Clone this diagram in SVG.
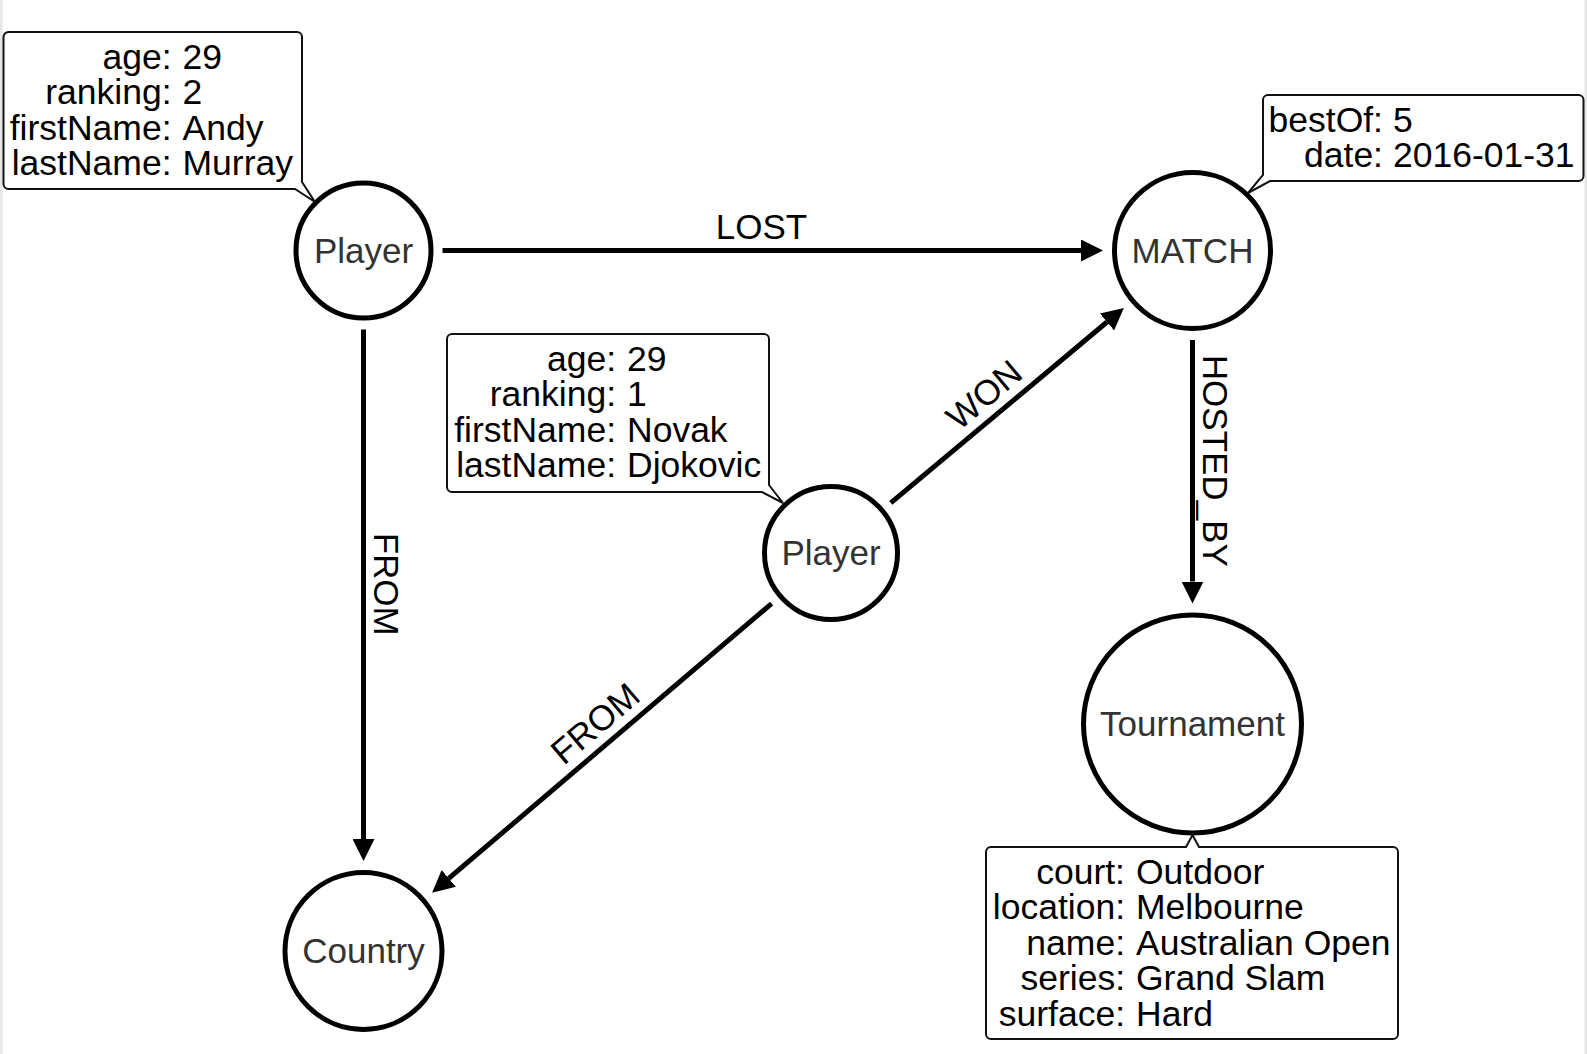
<svg xmlns="http://www.w3.org/2000/svg" width="1587" height="1054" viewBox="0 0 1587 1054">
<style>
text{font-family:"Liberation Sans",Arial,sans-serif;font-size:35px}
.node circle{fill:#fff;stroke:#000;stroke-width:5}
.node text{fill:#333;text-anchor:middle}
.props path{fill:#fff;stroke:#111;stroke-width:2;stroke-linejoin:miter}
.props text{fill:#000;font-size:35.5px}
.k{text-anchor:end}
.v{text-anchor:start}
.edge line{stroke:#000;stroke-width:5;marker-end:url(#ah)}
.edge text{fill:#000;text-anchor:middle}
</style>
<defs>
<marker id="ah" markerUnits="userSpaceOnUse" markerWidth="22" markerHeight="22" refX="0" refY="11" orient="auto" viewBox="0 0 22 22">
<path d="M0,0 L22,11 L0,22 Z" fill="#000"/>
</marker>
</defs>
<rect x="0" y="0" width="1587" height="1054" fill="#fff"/>
<rect x="0" y="0" width="2.5" height="1054" fill="#e6e6e6"/>
<rect x="1584.5" y="0" width="2.5" height="1054" fill="#e6e6e6"/>

<g id="connectors">
<g class="edge" id="e-lost">
<line x1="442.5" y1="250.5" x2="1081" y2="250.5"/>
<text x="761.5" y="238.5">LOST</text>
</g>
<g class="edge" id="e-from1">
<line x1="363.5" y1="329.5" x2="363.5" y2="839"/>
<text transform="translate(374,584.2) rotate(90)" x="0" y="0">FROM</text>
</g>
<g class="edge" id="e-hosted">
<line x1="1192.5" y1="340" x2="1192.5" y2="581.5"/>
<text transform="translate(1203,460.8) rotate(90)" x="0" y="0">HOSTED_BY</text>
</g>
<g class="edge" id="e-won">
<line x1="890.8" y1="502.9" x2="1107" y2="322"/>
<text transform="translate(998.9,412.4) rotate(-39.92)" x="0" y="-11">WON</text>
</g>
<g class="edge" id="e-from2">
<line x1="771.6" y1="603.6" x2="448.8" y2="878.4"/>
<text transform="translate(610.2,741) rotate(-40.41)" x="0" y="-11">FROM</text>
</g>
</g>

<g id="n-murray" class="node">
<circle cx="363.5" cy="250.5" r="67.5"/>
<text x="363.5" y="262.5">Player</text>
</g>
<g id="p-murray" class="props">
<path d="M8.5,32 H297 A5,5 0 0 1 302,37 V182 L315,202 L295,189 H8.5 A5,5 0 0 1 3.5,184 V37 A5,5 0 0 1 8.5,32 Z"/>
<text class="k" x="171.5" y="68.5">age:</text><text class="v" x="182.5" y="68.5">29</text>
<text class="k" x="171.5" y="104">ranking:</text><text class="v" x="182.5" y="104">2</text>
<text class="k" x="171.5" y="139.5">firstName:</text><text class="v" x="182.5" y="139.5">Andy</text>
<text class="k" x="171.5" y="175">lastName:</text><text class="v" x="182.5" y="175">Murray</text>
</g>

<g id="n-match" class="node">
<circle cx="1192.5" cy="250.5" r="78"/>
<text x="1192.5" y="262.5">MATCH</text>
</g>
<g id="p-match" class="props">
<path d="M1268,95 H1578.5 A5,5 0 0 1 1583.5,100 V176 A5,5 0 0 1 1578.5,181 H1270 L1248,193 L1263,175 V100 A5,5 0 0 1 1268,95 Z"/>
<text class="k" x="1383" y="131.5">bestOf:</text><text class="v" x="1393" y="131.5">5</text>
<text class="k" x="1383" y="167">date:</text><text class="v" x="1393" y="167">2016-01-31</text>
</g>

<g id="n-novak" class="node">
<circle cx="831" cy="553" r="66.5"/>
<text x="831" y="565">Player</text>
</g>
<g id="p-novak" class="props">
<path d="M452,334 H764 A5,5 0 0 1 769,339 V485 L783,503 L762,492 H452 A5,5 0 0 1 447,487 V339 A5,5 0 0 1 452,334 Z"/>
<text class="k" x="616" y="370.5">age:</text><text class="v" x="627" y="370.5">29</text>
<text class="k" x="616" y="406">ranking:</text><text class="v" x="627" y="406">1</text>
<text class="k" x="616" y="441.5">firstName:</text><text class="v" x="627" y="441.5">Novak</text>
<text class="k" x="616" y="477">lastName:</text><text class="v" x="627" y="477">Djokovic</text>
</g>

<g id="n-tournament" class="node">
<circle cx="1192.5" cy="724" r="109"/>
<text x="1192.5" y="735.5">Tournament</text>
</g>
<g id="p-tournament" class="props">
<path d="M991,847 H1186 L1192.5,835 L1199,847 H1393 A5,5 0 0 1 1398,852 V1034 A5,5 0 0 1 1393,1039 H991 A5,5 0 0 1 986,1034 V852 A5,5 0 0 1 991,847 Z"/>
<text class="k" x="1125" y="883.5">court:</text><text class="v" x="1136" y="883.5">Outdoor</text>
<text class="k" x="1125" y="919">location:</text><text class="v" x="1136" y="919">Melbourne</text>
<text class="k" x="1125" y="954.5">name:</text><text class="v" x="1136" y="954.5">Australian Open</text>
<text class="k" x="1125" y="990">series:</text><text class="v" x="1136" y="990">Grand Slam</text>
<text class="k" x="1125" y="1025.5">surface:</text><text class="v" x="1136" y="1025.5">Hard</text>
</g>

<g id="n-country" class="node">
<circle cx="363.5" cy="951" r="78.5"/>
<text x="363.5" y="962.5">Country</text>
</g>
</svg>
